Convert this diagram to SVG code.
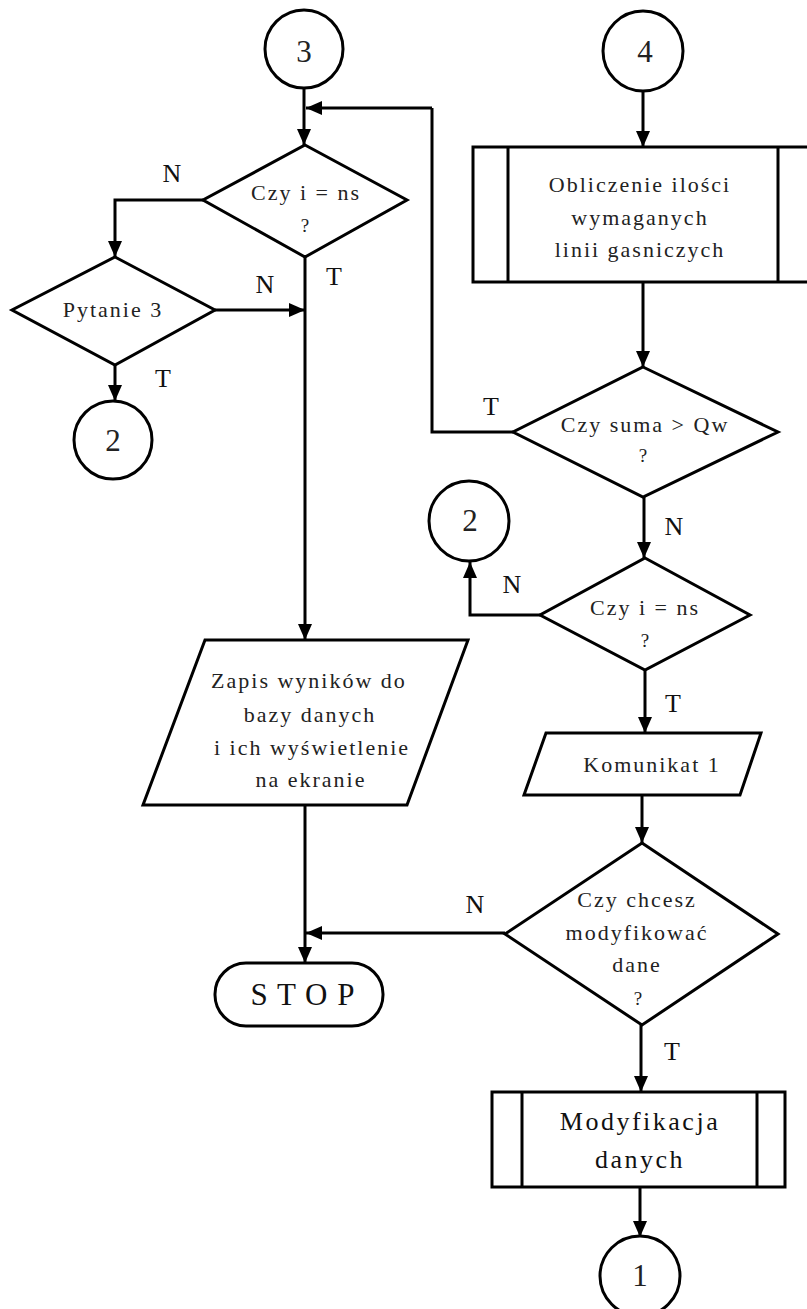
<svg xmlns="http://www.w3.org/2000/svg" width="807" height="1309" viewBox="0 0 807 1309">
<defs>
<marker id="arr" markerUnits="userSpaceOnUse" markerWidth="16" markerHeight="14" refX="16" refY="7" orient="auto">
<path d="M0,0 L16,7 L0,14 z" fill="#000"/>
</marker>
<style>
.s{fill:#fff;stroke:#000;stroke-width:3}
.c{fill:none;stroke:#000;stroke-width:3;marker-end:url(#arr)}
.l{fill:none;stroke:#000;stroke-width:3}
text{font-family:"Liberation Serif","Times New Roman",serif;fill:#222;text-anchor:middle}
.t{font-size:22px;letter-spacing:2px}
.q{font-size:19px}
.d{font-size:31px}
.lb{font-size:26px;fill:#111}
.b{font-size:26px;letter-spacing:2.5px;fill:#111}
</style>
</defs>
<rect width="807" height="1309" fill="#fff"/>
<g id="connectors">
<path class="c" d="M304,88 V145"/>
<path class="l" d="M513,432 H432 V108"/>
<path class="c" d="M432,108 H306"/>
<path class="c" d="M203,200 H115 V257"/>
<path class="c" d="M215,310 H305"/>
<path class="c" d="M115,365 V401"/>
<path class="c" d="M305,257 V640"/>
<path class="c" d="M305,805 V963"/>
<path class="c" d="M505,933 H306"/>
<path class="c" d="M643,91 V147"/>
<path class="c" d="M643,282 V367"/>
<path class="c" d="M644,497 V558"/>
<path class="c" d="M540,615 H470 V562"/>
<path class="c" d="M645,670 V733"/>
<path class="c" d="M642,795 V843"/>
<path class="c" d="M641,1025 V1092"/>
<path class="c" d="M640,1187 V1237"/>
</g>
<g id="labels">
<text class="lb" x="172" y="182">N</text>
<text class="lb" x="265" y="293">N</text>
<text class="lb" x="334" y="285">T</text>
<text class="lb" x="163" y="387">T</text>
<text class="lb" x="491" y="415">T</text>
<text class="lb" x="674" y="535">N</text>
<text class="lb" x="512" y="593">N</text>
<text class="lb" x="673" y="712">T</text>
<text class="lb" x="475" y="913">N</text>
<text class="lb" x="672" y="1060">T</text>
</g>
<g id="c3">
<circle class="s" cx="304" cy="49" r="39"/>
<text class="d" x="304" y="62">3</text>
</g>
<g id="d1">
<polygon class="s" points="305,145 407,200 305,257 203,200"/>
<text class="t" x="306" y="200">Czy i = ns</text>
<text class="q" x="305" y="232">?</text>
</g>
<g id="d2">
<polygon class="s" points="115,257 215,310 115,365 12,310"/>
<text class="t" x="113" y="317">Pytanie 3</text>
</g>
<g id="c2a">
<circle class="s" cx="113" cy="440" r="39"/>
<text class="d" x="113" y="451">2</text>
</g>
<g id="io1">
<polygon class="s" points="205,640 468,640 407,805 143,805"/>
<text class="t" x="309" y="688">Zapis wyników do</text>
<text class="t" x="310" y="722">bazy danych</text>
<text class="t" x="312" y="755">i ich wyświetlenie</text>
<text class="t" x="311" y="787">na ekranie</text>
</g>
<g id="stop">
<rect class="s" x="215" y="963" width="168" height="63" rx="31" ry="31"/>
<text x="303" y="1005" style="font-size:31px;letter-spacing:1px;fill:#111">S T O P</text>
</g>
<g id="c4">
<circle class="s" cx="643" cy="51" r="40"/>
<text class="d" x="645" y="62">4</text>
</g>
<g id="p1">
<rect class="s" x="473" y="147" width="340" height="135"/>
<path class="l" d="M508,147 V282 M778,147 V282"/>
<text class="t" x="640" y="192">Obliczenie ilości</text>
<text class="t" x="640" y="225">wymaganych</text>
<text class="t" x="640" y="257">linii gasniczych</text>
</g>
<g id="d3">
<polygon class="s" points="643,367 778,432 643,497 513,432"/>
<text class="t" x="645" y="432">Czy suma &gt; Qw</text>
<text class="q" x="643" y="462">?</text>
</g>
<g id="c2b">
<circle class="s" cx="469" cy="521" r="40"/>
<text class="d" x="470" y="531">2</text>
</g>
<g id="d4">
<polygon class="s" points="645,558 750,615 645,670 540,615"/>
<text class="t" x="645" y="615">Czy i = ns</text>
<text class="q" x="645" y="647">?</text>
</g>
<g id="io2">
<polygon class="s" points="546,733 761,733 740,795 524,795"/>
<text class="t" x="652" y="772">Komunikat 1</text>
</g>
<g id="d5">
<polygon class="s" points="642,843 778,934 642,1025 505,934"/>
<text class="t" x="637" y="907">Czy chcesz</text>
<text class="t" x="637" y="940">modyfikować</text>
<text class="t" x="637" y="972">dane</text>
<text class="q" x="638" y="1005">?</text>
</g>
<g id="p2">
<rect class="s" x="492" y="1092" width="293" height="95"/>
<path class="l" d="M522,1092 V1187 M757,1092 V1187"/>
<text class="b" x="640" y="1130">Modyfikacja</text>
<text class="b" x="640" y="1168">danych</text>
</g>
<g id="c1">
<circle class="s" cx="640" cy="1276" r="40"/>
<text class="d" x="640" y="1286">1</text>
</g>
</svg>
